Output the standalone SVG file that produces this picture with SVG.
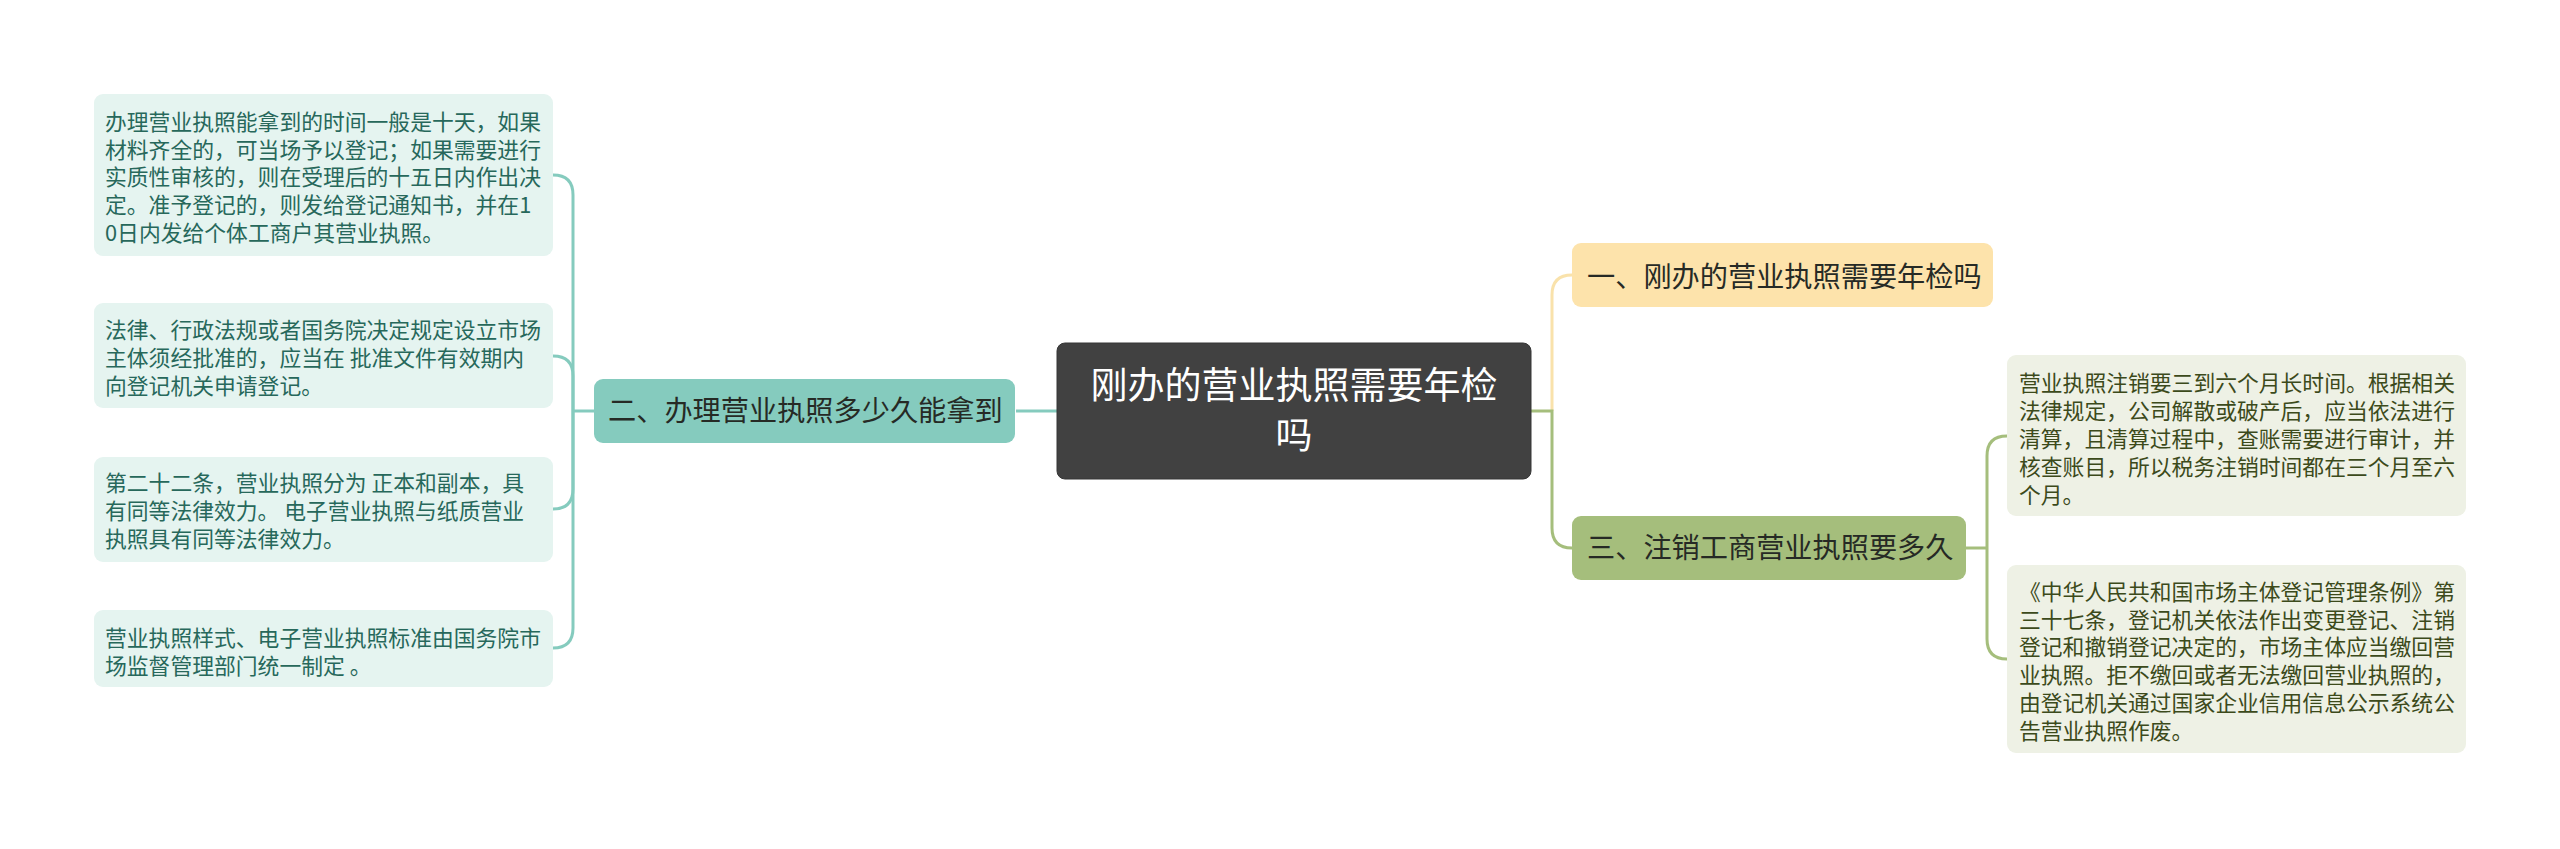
<svg xmlns="http://www.w3.org/2000/svg" width="2560" height="849" viewBox="0 0 2560 849">
<style>
text{font-family:"Noto Sans CJK SC","Noto Sans",sans-serif;}
.leafL rect{fill:#e5f4f0;}
.leafL text{fill:#27685b;font-size:21.8px;}
.leafR rect{fill:#eef1e5;}
.leafR text{fill:#3c4a1b;font-size:21.8px;}
.br text{font-size:28.2px;fill:#262a25;}
.c{fill:none;stroke-width:3;}
.teal{stroke:#85cbbe;}
.yel{stroke:#f9e2ab;}
.olv{stroke:#a5be7c;}
</style>
<rect width="2560" height="849" fill="#ffffff"/>
<g id="connectors">
<path class="c teal" d="M1016,411 H1057"/>
<path class="c teal" d="M594,411 H573"/>
<path class="c teal" d="M573,411 V195 Q573,175 553,175"/>
<path class="c teal" d="M573,411 V376 Q573,356 553,356"/>
<path class="c teal" d="M573,411 V489 Q573,509 553,509"/>
<path class="c teal" d="M573,411 V628 Q573,648 553,648"/>
<path class="c yel" d="M1552,411 V295 Q1552,275 1572,275"/>
<path class="c olv" d="M1531,411 H1552 V528 Q1552,548 1572,548"/>
<path class="c olv" d="M1966,548 H1987"/>
<path class="c olv" d="M1987,548 V456 Q1987,436 2007,436"/>
<path class="c olv" d="M1987,548 V639 Q1987,659 2007,659"/>
</g>
<g id="root">
<rect x="1057" y="343" width="474" height="136" rx="8" fill="#414141" stroke="#363636" stroke-width="1"/>
<text x="1294" y="399" text-anchor="middle" font-size="37px" fill="#ffffff">刚办的营业执照需要年检</text>
<text x="1294" y="449" text-anchor="middle" font-size="37px" fill="#ffffff">吗</text>
</g>
<g id="branch-left" class="br">
<rect x="594" y="379" width="421" height="64" rx="9" fill="#85cbbe"/>
<text x="608" y="421">二、办理营业执照多少久能拿到</text>
</g>
<g id="branch-r1" class="br">
<rect x="1572" y="243" width="421" height="64" rx="9" fill="#fde3ab"/>
<text x="1587" y="287">一、刚办的营业执照需要年检吗</text>
</g>
<g id="branch-r2" class="br">
<rect x="1572" y="516" width="394" height="64" rx="9" fill="#a5be7c"/>
<text x="1587" y="558">三、注销工商营业执照要多久</text>
</g>
<g id="leaf-l1" class="leafL">
<rect x="94" y="94" width="459" height="162" rx="9"/>
<text x="105" y="130">办理营业执照能拿到的时间一般是十天，如果</text>
<text x="105" y="158">材料齐全的，可当场予以登记；如果需要进行</text>
<text x="105" y="185">实质性审核的，则在受理后的十五日内作出决</text>
<text x="105" y="213">定。准予登记的，则发给登记通知书，并在1</text>
<text x="105" y="241">0日内发给个体工商户其营业执照。</text>
</g>
<g id="leaf-l2" class="leafL">
<rect x="94" y="303" width="459" height="105" rx="9"/>
<text x="105" y="338">法律、行政法规或者国务院决定规定设立市场</text>
<text x="105" y="366">主体须经批准的，应当在 批准文件有效期内</text>
<text x="105" y="394">向登记机关申请登记。</text>
</g>
<g id="leaf-l3" class="leafL">
<rect x="94" y="457" width="459" height="105" rx="9"/>
<text x="105" y="491">第二十二条，营业执照分为 正本和副本，具</text>
<text x="105" y="519">有同等法律效力。 电子营业执照与纸质营业</text>
<text x="105" y="547">执照具有同等法律效力。</text>
</g>
<g id="leaf-l4" class="leafL">
<rect x="94" y="610" width="459" height="77" rx="9"/>
<text x="105" y="646">营业执照样式、电子营业执照标准由国务院市</text>
<text x="105" y="674">场监督管理部门统一制定 。</text>
</g>
<g id="leaf-r1" class="leafR">
<rect x="2007" y="355" width="459" height="161" rx="9"/>
<text x="2019" y="391">营业执照注销要三到六个月长时间。根据相关</text>
<text x="2019" y="419">法律规定，公司解散或破产后，应当依法进行</text>
<text x="2019" y="447">清算，且清算过程中，查账需要进行审计，并</text>
<text x="2019" y="475">核查账目，所以税务注销时间都在三个月至六</text>
<text x="2019" y="503">个月。</text>
</g>
<g id="leaf-r2" class="leafR">
<rect x="2007" y="565" width="459" height="188" rx="9"/>
<text x="2019" y="600">《中华人民共和国市场主体登记管理条例》第</text>
<text x="2019" y="628">三十七条，登记机关依法作出变更登记、注销</text>
<text x="2019" y="655">登记和撤销登记决定的，市场主体应当缴回营</text>
<text x="2019" y="683">业执照。拒不缴回或者无法缴回营业执照的，</text>
<text x="2019" y="711">由登记机关通过国家企业信用信息公示系统公</text>
<text x="2019" y="739">告营业执照作废。</text>
</g>
</svg>
